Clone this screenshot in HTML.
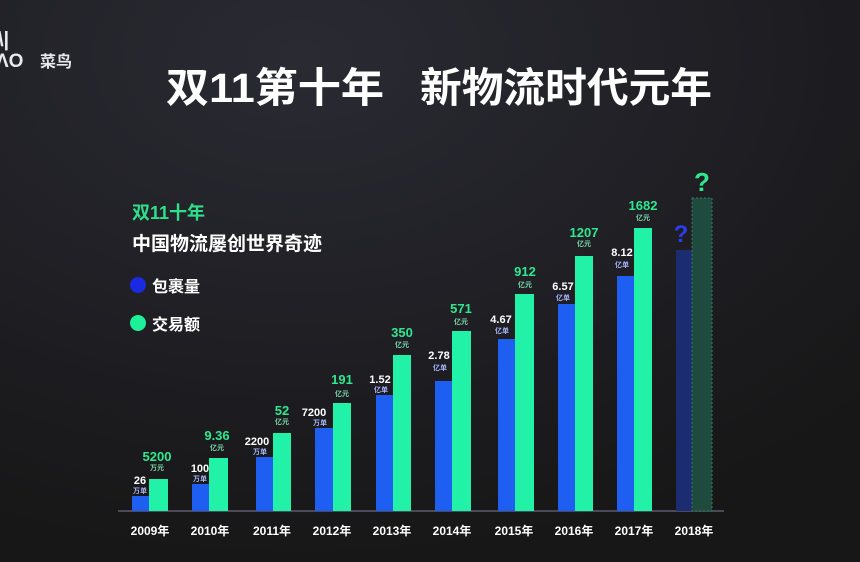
<!DOCTYPE html>
<html><head><meta charset="utf-8"><style>
html,body{margin:0;padding:0;background:#1b1b20;}
svg{display:block}
text{font-family:"Liberation Sans","Noto Sans CJK SC",sans-serif;font-weight:bold}
</style></head><body>
<svg width="860" height="562" viewBox="0 0 860 562" xmlns="http://www.w3.org/2000/svg">
<defs>
<radialGradient id="bg" cx="0.35" cy="0.1" r="0.9">
<stop offset="0" stop-color="#2a2a33"/>
<stop offset="0.6" stop-color="#1e1e23"/>
<stop offset="1" stop-color="#171717"/>
</radialGradient>
</defs>
<rect width="860" height="562" fill="url(#bg)"/>
<text x="-2" y="46" fill="#e8e8f0" font-size="20" font-weight="normal">\|</text>
<text x="-4" y="67" fill="#e8e8f0" font-size="19" font-weight="normal">ΛO</text>
<text x="40" y="67" fill="#e8e8f0" font-size="16">菜鸟</text>
<text x="166" y="102" fill="#ffffff" font-size="41" textLength="218" lengthAdjust="spacingAndGlyphs">双11第十年</text>
<text x="420" y="102" fill="#ffffff" font-size="41" textLength="292" lengthAdjust="spacingAndGlyphs">新物流时代元年</text>
<text x="132" y="219" fill="#2ee08a" font-size="18">双11十年</text>
<text x="132" y="250" fill="#ffffff" font-size="19" font-weight="normal">中国物流屡创世界奇迹</text>
<circle cx="138" cy="285" r="8" fill="#1a2ae0"/>
<text x="152" y="292" fill="#ffffff" font-size="16">包裹量</text>
<circle cx="138" cy="323" r="8" fill="#1ef09a"/>
<text x="152" y="330" fill="#ffffff" font-size="16">交易额</text>
<line x1="118" y1="511" x2="724" y2="511" stroke="#5a5a70" stroke-width="1.5"/>
<g fill="#1e5ef0">
<rect x="132" y="496" width="17" height="15"/>
<rect x="192" y="484" width="17" height="27"/>
<rect x="256" y="457" width="17" height="54"/>
<rect x="315" y="428" width="18" height="83"/>
<rect x="376" y="395" width="17" height="116"/>
<rect x="435" y="381" width="17" height="130"/>
<rect x="498" y="339" width="17" height="172"/>
<rect x="558" y="304" width="17" height="207"/>
<rect x="617" y="276" width="17" height="235"/>
</g>
<g fill="#22f2a8">
<rect x="149" y="479" width="19" height="32"/>
<rect x="209" y="458" width="19" height="53"/>
<rect x="273" y="433" width="18" height="78"/>
<rect x="333" y="403" width="18" height="108"/>
<rect x="393" y="355" width="18" height="156"/>
<rect x="452" y="331" width="19" height="180"/>
<rect x="515" y="294" width="19" height="217"/>
<rect x="575" y="256" width="18" height="255"/>
<rect x="634" y="228" width="18" height="283"/>
</g>
<rect x="676" y="250" width="16" height="261" fill="#1b2c70"/>
<rect x="692" y="198" width="20" height="313" fill="#1f4a3e" stroke="#3a7a62" stroke-dasharray="2 2"/>
<text x="702" y="191" fill="#2ee890" font-size="26" text-anchor="middle">?</text>
<text x="681" y="242" fill="#2a3ef0" font-size="24" text-anchor="middle" font-weight="normal">?</text>
<g fill="#ffffff" font-size="11" text-anchor="middle">
<text x="140" y="484">26</text><text x="200" y="472">100</text><text x="257" y="445">2200</text>
<text x="314" y="416">7200</text><text x="380" y="383">1.52</text><text x="439" y="359">2.78</text>
<text x="501" y="323">4.67</text><text x="563" y="290">6.57</text><text x="622" y="256">8.12</text>
</g>
<g fill="#aab8ff" font-size="7" text-anchor="middle" font-weight="normal">
<text x="140" y="493">万单</text><text x="200" y="481">万单</text><text x="260" y="454">万单</text>
<text x="320" y="425">万单</text><text x="381" y="392">亿单</text><text x="440" y="370">亿单</text>
<text x="502" y="333">亿单</text><text x="563" y="300">亿单</text><text x="622" y="267">亿单</text>
</g>
<g fill="#2ee890" font-size="13" text-anchor="middle">
<text x="157" y="461">5200</text><text x="217" y="440">9.36</text><text x="282" y="415">52</text>
<text x="342" y="384">191</text><text x="402" y="337">350</text><text x="461" y="313">571</text>
<text x="525" y="276">912</text><text x="584" y="237">1207</text><text x="643" y="210">1682</text>
</g>
<g fill="#7ad8a8" font-size="7" text-anchor="middle" font-weight="normal">
<text x="157" y="470">万元</text><text x="217" y="450">亿元</text><text x="282" y="424">亿元</text>
<text x="342" y="396">亿元</text><text x="402" y="347">亿元</text><text x="461" y="324">亿元</text>
<text x="525" y="287">亿元</text><text x="584" y="246">亿元</text><text x="643" y="220">亿元</text>
</g>
<g fill="#ffffff" font-size="12" text-anchor="middle">
<text x="150" y="535">2009年</text><text x="210" y="535">2010年</text><text x="272" y="535">2011年</text>
<text x="332" y="535">2012年</text><text x="392" y="535">2013年</text><text x="452" y="535">2014年</text>
<text x="514" y="535">2015年</text><text x="574" y="535">2016年</text><text x="634" y="535">2017年</text>
<text x="694" y="535">2018年</text>
</g>
</svg>
</body></html>
